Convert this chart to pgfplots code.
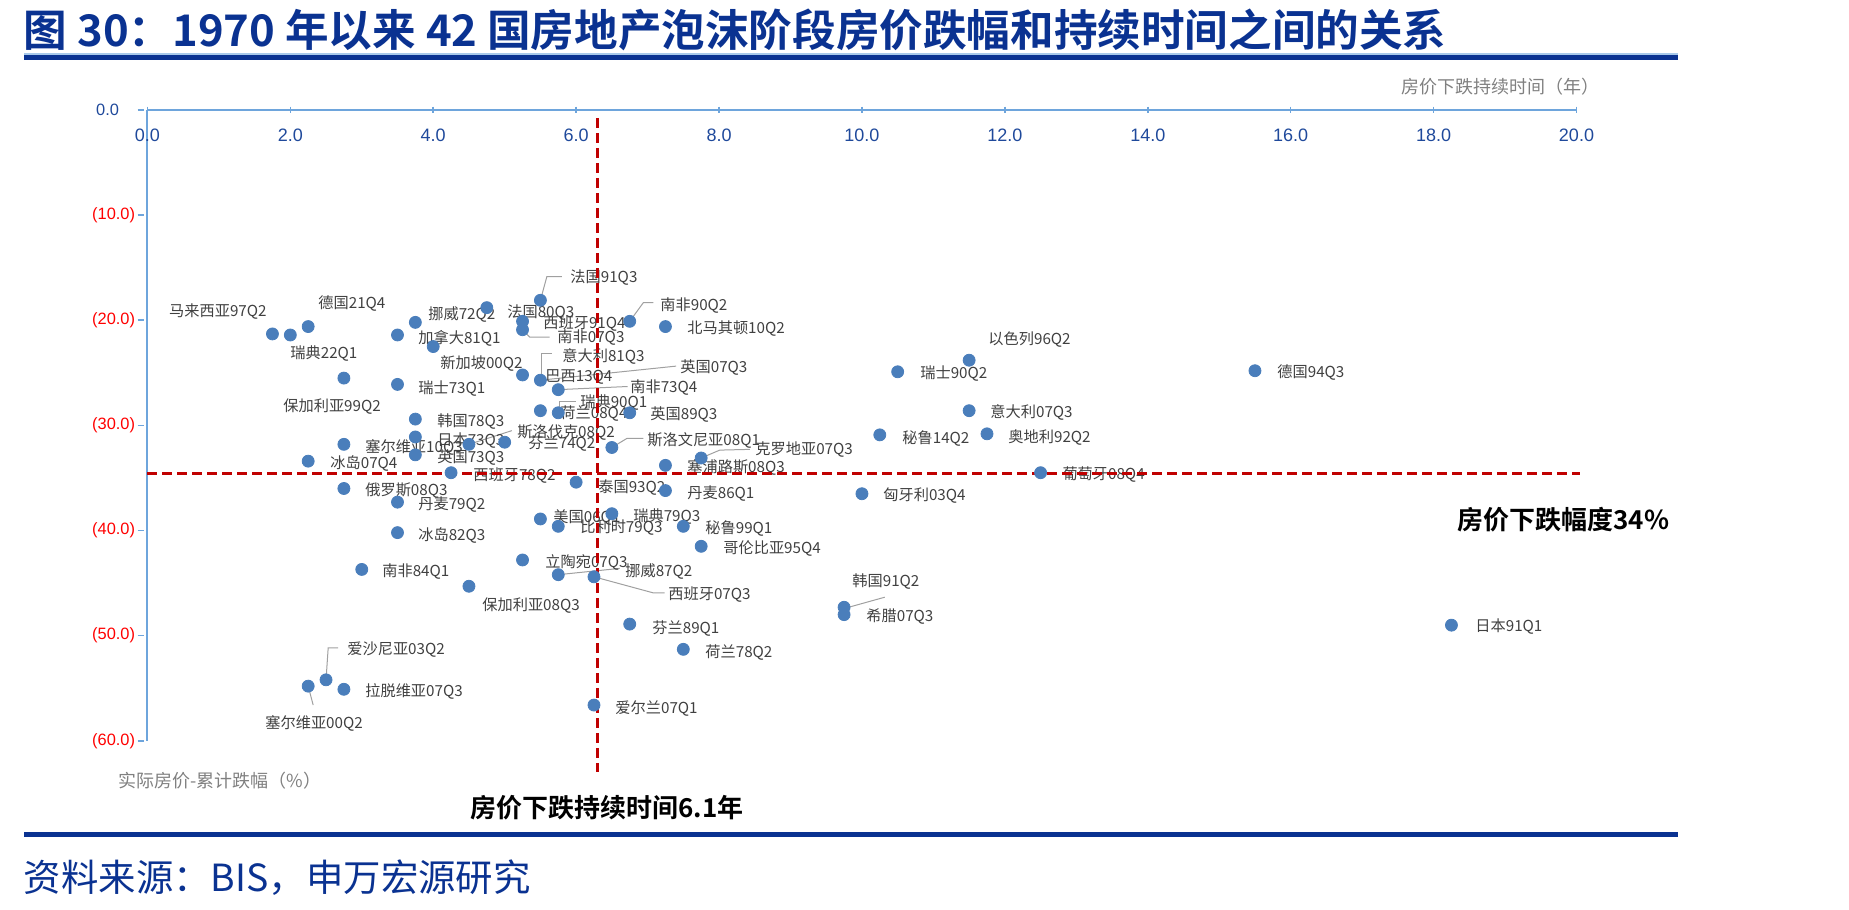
\documentclass[border=0pt]{standalone}
\usepackage{pgfplots}
\pgfplotsset{compat=1.18}
\usepackage{fontspec}
\setmainfont{Noto Sans CJK SC}[BoldFont={Noto Sans CJK SC Bold}]
\newfontfamily\arial{Liberation Sans}
\definecolor{navy}{RGB}{10,50,145}
\definecolor{ptblue}{RGB}{74,126,187}
\definecolor{axblue}{RGB}{110,165,220}
\definecolor{lblgray}{RGB}{64,64,64}
\definecolor{titgray}{RGB}{128,128,128}
\definecolor{tickblue}{RGB}{31,73,155}
\definecolor{dred}{RGB}{192,0,0}
\definecolor{leader}{RGB}{160,160,160}
\tikzset{lbl/.style={font=\fontsize{7.6}{8.5}\selectfont, text=lblgray, inner sep=0pt, anchor=west}}
\begin{document}
\begin{tikzpicture}
\begin{scope}[x=0.5pt,y=-0.5pt]
\useasboundingbox (0,0) rectangle (1849,910);
\node[anchor=west, inner sep=0pt, text=navy, font=\fontsize{21.8}{24}\selectfont\bfseries] at (23.6,30) {图 30：1970 年以来 42 国房地产泡沫阶段房价跌幅和持续时间之间的关系};
\fill[axblue!60] (23.6,52.5) rectangle (1678,54.5);
\fill[navy] (23.6,54.5) rectangle (1678,59.5);
\node[anchor=center, inner sep=0pt, text=titgray, font=\fontsize{9}{10}\selectfont] at (1500,87) {房价下跌持续时间（年）};
\node[anchor=west, inner sep=0pt, text=titgray, font=\fontsize{9}{10}\selectfont] at (118,781) {实际房价-累计跌幅（\%）};
\node[anchor=center, inner sep=0pt, font=\fontsize{13}{15}\selectfont\bfseries] at (607,808) {房价下跌持续时间6.1年};
\node[anchor=west, inner sep=0pt, font=\fontsize{13}{15}\selectfont\bfseries] at (1457,520) {房价下跌幅度34\%};
\fill[navy] (23.6,831.5) rectangle (1678,836.5);
\node[anchor=west, inner sep=0pt, text=navy, font=\fontsize{18.7}{21}\selectfont] at (23.6,878) {资料来源：BIS，申万宏源研究};
\end{scope}
\begin{axis}[
  at={(73.7pt,-55pt)}, anchor=north west,
  scale only axis, width=714.55pt, height=315.4pt,
  xmin=0, xmax=20, ymin=-60, ymax=0,
  axis x line=top, axis y line=left,
  axis line style={axblue, line width=1pt, -},
  clip=false,
  xtick={0,2,...,20},
  xticklabels={0.0,2.0,4.0,6.0,8.0,10.0,12.0,14.0,16.0,18.0,20.0},
  ytick={0,-10,-20,-30,-40,-50,-60},
  yticklabels={\textcolor{tickblue}{0.0}\kern 8pt\mbox{},(10.0),(20.0),(30.0),(40.0),(50.0),(60.0)},
  tick style={axblue, line width=0.8pt},
  major tick length=3.3pt,
  ytick style={xshift=-3.3pt},
  xticklabel style={anchor=north, yshift=-7.5pt, text=tickblue, font=\arial\fontsize{9}{10}\selectfont},
  yticklabel style={text=red, xshift=-1pt, font=\arial\fontsize{8.2}{10}\selectfont},
]
% leader lines
\addplot[leader, line width=0.5pt, no marks] coordinates {(5.5,-18.1) (5.59,-15.86) (5.80,-15.86)};
\addplot[leader, line width=0.5pt, no marks] coordinates {(6.75,-20.1) (6.94,-18.33) (7.08,-18.33)};
\addplot[leader, line width=0.5pt, no marks] coordinates {(5.25,-20.9) (5.35,-21.6) (5.63,-21.6)};
\addplot[leader, line width=0.5pt, no marks] coordinates {(5.52,-25.4) (5.52,-23.15) (5.66,-23.15)};
\addplot[leader, line width=0.5pt, no marks] coordinates {(5.5,-25.7) (7.40,-24.36)};
\addplot[leader, line width=0.5pt, no marks] coordinates {(5.75,-26.6) (6.72,-26.3)};
\addplot[leader, line width=0.5pt, no marks] coordinates {(5.77,-28.8) (5.77,-27.75) (6.0,-27.75)};
\addplot[leader, line width=0.5pt, no marks] coordinates {(4.5,-31.8) (5.1,-30.5)};
\addplot[leader, line width=0.5pt, no marks] coordinates {(6.5,-32.1) (6.71,-31.24) (6.94,-31.24)};
\addplot[leader, line width=0.5pt, no marks] coordinates {(7.75,-33.1) (8.01,-32.35) (8.43,-32.28)};
\addplot[leader, line width=0.5pt, no marks] coordinates {(5.75,-44.2) (6.61,-43.6)};
\addplot[leader, line width=0.5pt, no marks] coordinates {(6.25,-44.4) (7.08,-45.93) (7.24,-45.93)};
\addplot[leader, line width=0.5pt, no marks] coordinates {(9.76,-47.4) (10.32,-46.34)};
\addplot[leader, line width=0.5pt, no marks] coordinates {(2.25,-54.8) (2.32,-56.6)};
\addplot[leader, line width=0.5pt, no marks] coordinates {(2.5,-54.2) (2.53,-51.16) (2.67,-51.16)};
% points
\addplot[only marks, mark=*, mark size=3pt, mark options={draw=ptblue, fill=ptblue}] coordinates {
(1.75,-21.3) (2.0,-21.4) (2.25,-20.6) (2.75,-25.5) (3.5,-21.4) (4.0,-22.5)
(3.75,-20.2) (3.5,-26.1) (4.75,-18.8) (5.25,-20.1) (5.25,-20.9) (5.5,-18.1)
(6.75,-20.1) (7.25,-20.6) (5.25,-25.2) (5.5,-25.7) (5.75,-26.6) (5.5,-28.6)
(5.75,-28.8) (6.75,-28.8) (3.75,-29.4) (3.75,-31.1) (4.5,-31.8) (5.0,-31.6)
(2.75,-31.8) (3.75,-32.8) (2.25,-33.4) (4.25,-34.5) (6.5,-32.1) (7.75,-33.1)
(7.25,-33.8) (6.0,-35.4) (7.25,-36.2) (10.0,-36.5) (5.5,-38.9) (5.75,-39.6)
(6.5,-38.4) (7.5,-39.6) (7.75,-41.5) (5.25,-42.8) (5.75,-44.2) (6.25,-44.4)
(9.75,-47.3) (9.75,-48.0) (2.75,-36.0) (3.5,-37.3) (3.5,-40.2) (3.0,-43.7)
(4.5,-45.3) (2.25,-54.8) (2.5,-54.2) (2.75,-55.1) (6.25,-56.6) (6.75,-48.9)
(7.5,-51.3) (11.5,-23.8) (10.5,-24.9) (11.5,-28.6) (10.25,-30.9) (11.75,-30.8)
(12.5,-34.5) (15.5,-24.8) (18.25,-49.0)
};
% labels
\node[lbl, anchor=east] at (axis cs:1.674,-19.12) {马来西亚97Q2};
\node[lbl] at (axis cs:2.388,-18.36) {德国21Q4};
\node[lbl] at (axis cs:1.996,-23.12) {瑞典22Q1};
\node[lbl] at (axis cs:1.898,-28.16) {保加利亚99Q2};
\node[lbl] at (axis cs:3.927,-19.41) {挪威72Q2};
\node[lbl] at (axis cs:3.787,-21.69) {加拿大81Q1};
\node[lbl] at (axis cs:3.787,-26.45) {瑞士73Q1};
\node[lbl] at (axis cs:4.095,-24.07) {新加坡00Q2};
\node[lbl] at (axis cs:5.032,-19.22) {法国80Q3};
\node[lbl] at (axis cs:4.053,-29.59) {韩国78Q3};
\node[lbl] at (axis cs:4.053,-31.40) {日本73Q3};
\node[lbl] at (axis cs:3.045,-32.06) {塞尔维亚10Q3};
\node[lbl] at (axis cs:4.053,-33.02) {英国73Q3};
\node[lbl] at (axis cs:2.556,-33.59) {冰岛07Q4};
\node[lbl] at (axis cs:4.557,-34.73) {西班牙78Q2};
\node[lbl] at (axis cs:5.915,-15.98) {法国91Q3};
\node[lbl] at (axis cs:5.537,-20.27) {西班牙91Q4};
\node[lbl] at (axis cs:5.733,-21.60) {南非07Q3};
\node[lbl] at (axis cs:7.174,-18.55) {南非90Q2};
\node[lbl] at (axis cs:7.552,-20.74) {北马其顿10Q2};
\node[lbl] at (axis cs:5.803,-23.41) {意大利81Q3};
\node[lbl] at (axis cs:5.565,-25.40) {巴西13Q4};
\node[lbl] at (axis cs:7.454,-24.45) {英国07Q3};
\node[lbl] at (axis cs:6.754,-26.36) {南非73Q4};
\node[lbl] at (axis cs:6.054,-27.78) {瑞典90Q1};
\node[lbl] at (axis cs:5.775,-28.83) {荷兰08Q4};
\node[lbl] at (axis cs:7.034,-28.92) {英国89Q3};
\node[lbl] at (axis cs:5.173,-30.64) {斯洛伐克08Q2};
\node[lbl] at (axis cs:5.327,-31.68) {芬兰74Q2};
\node[lbl] at (axis cs:6.992,-31.40) {斯洛文尼亚08Q1};
\node[lbl] at (axis cs:8.504,-32.25) {克罗地亚07Q3};
\node[lbl] at (axis cs:7.552,-33.97) {塞浦路斯08Q3};
\node[lbl] at (axis cs:6.306,-35.87) {泰国93Q2};
\node[lbl] at (axis cs:7.552,-36.44) {丹麦86Q1};
\node[lbl] at (axis cs:10.295,-36.63) {匈牙利03Q4};
\node[lbl] at (axis cs:5.677,-38.72) {美国06Q1};
\node[lbl] at (axis cs:6.796,-38.63) {瑞典79Q3};
\node[lbl] at (axis cs:6.054,-39.68) {比利时79Q3};
\node[lbl] at (axis cs:7.804,-39.77) {秘鲁99Q1};
\node[lbl] at (axis cs:8.056,-41.67) {哥伦比亚95Q4};
\node[lbl] at (axis cs:5.565,-43.01) {立陶宛07Q3};
\node[lbl] at (axis cs:6.684,-43.86) {挪威87Q2};
\node[lbl] at (axis cs:7.286,-46.05) {西班牙07Q3};
\node[lbl] at (axis cs:9.861,-44.81) {韩国91Q2};
\node[lbl] at (axis cs:10.057,-48.14) {希腊07Q3};
\node[lbl] at (axis cs:3.045,-36.16) {俄罗斯08Q3};
\node[lbl] at (axis cs:3.787,-37.49) {丹麦79Q2};
\node[lbl] at (axis cs:3.787,-40.44) {冰岛82Q3};
\node[lbl] at (axis cs:3.283,-43.86) {南非84Q1};
\node[lbl] at (axis cs:4.683,-47.10) {保加利亚08Q3};
\node[lbl] at (axis cs:1.646,-58.33) {塞尔维亚00Q2};
\node[lbl] at (axis cs:2.794,-51.28) {爱沙尼亚03Q2};
\node[lbl] at (axis cs:3.045,-55.28) {拉脱维亚07Q3};
\node[lbl] at (axis cs:6.545,-56.90) {爱尔兰07Q1};
\node[lbl] at (axis cs:7.062,-49.29) {芬兰89Q1};
\node[lbl] at (axis cs:7.804,-51.57) {荷兰78Q2};
\node[lbl] at (axis cs:11.765,-21.79) {以色列96Q2};
\node[lbl] at (axis cs:10.812,-25.02) {瑞士90Q2};
\node[lbl] at (axis cs:11.793,-28.73) {意大利07Q3};
\node[lbl] at (axis cs:10.561,-31.21) {秘鲁14Q2};
\node[lbl] at (axis cs:12.045,-31.11) {奥地利92Q2};
\node[lbl] at (axis cs:12.801,-34.63) {葡萄牙08Q4};
\node[lbl] at (axis cs:15.809,-24.93) {德国94Q3};
\node[lbl] at (axis cs:18.580,-49.10) {日本91Q1};
% reference lines
\addplot[dred, line width=1.5pt, dash pattern=on 5pt off 2.5pt, no marks] coordinates {(0,-34.6) (20.05,-34.6)};
\addplot[dred, line width=1.5pt, dash pattern=on 5pt off 2.5pt, no marks] coordinates {(6.3,-0.8) (6.3,-63)};
\end{axis}
\end{tikzpicture}
\end{document}
